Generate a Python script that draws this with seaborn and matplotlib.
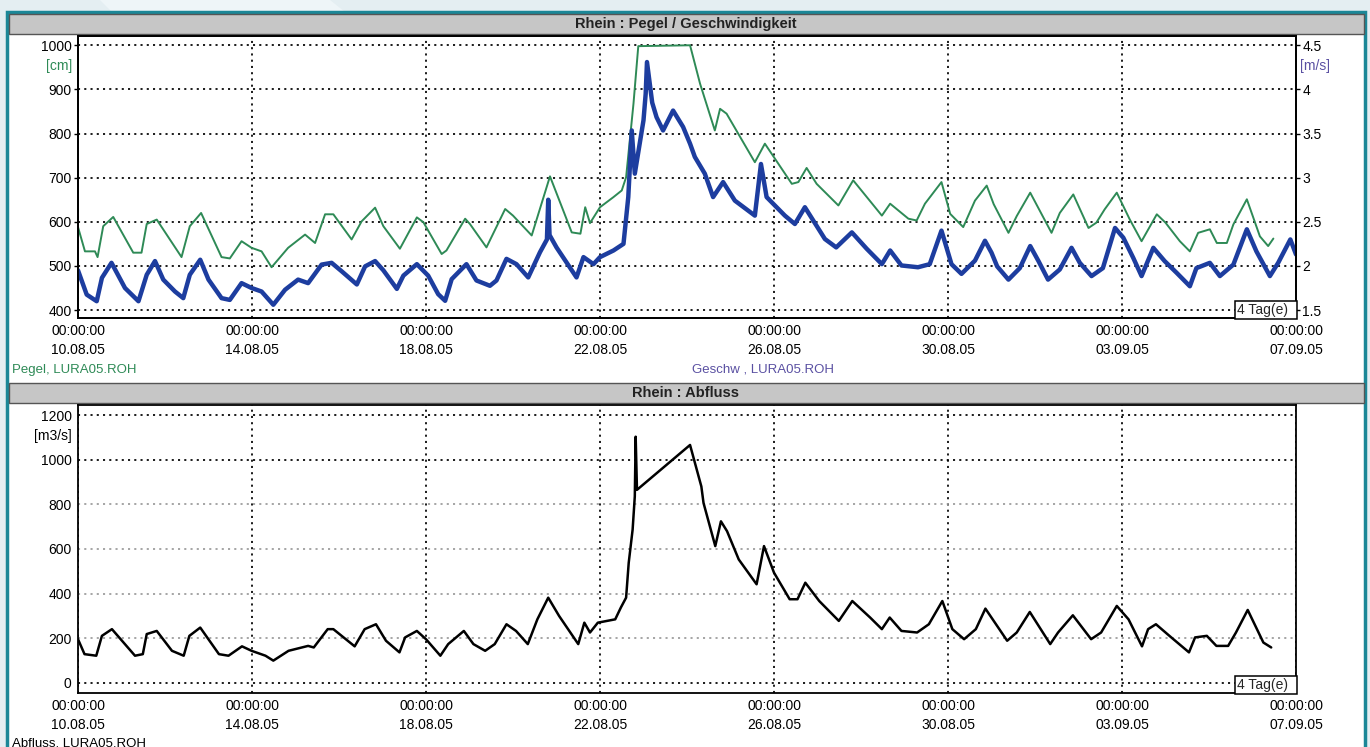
import numpy as np
import pandas as pd
import matplotlib
matplotlib.use('Agg')
from matplotlib import pyplot as plt
import matplotlib.dates as mdates
from matplotlib.patches import Rectangle, Polygon
import seaborn as sns

# measurement start (00:00:00 10.08.05), offsets in days
start = pd.Timestamp('2005-08-10')

pegel_days = [0.0, 0.16, 0.39, 0.45, 0.58, 0.81, 1.27, 1.46, 1.58, 1.81, 2.38, 2.57, 2.83,
              3.30, 3.49, 3.76, 3.99, 4.22, 4.45, 4.83, 5.22, 5.45, 5.68, 5.87, 6.29, 6.52,
              6.83, 7.02, 7.40, 7.79, 7.94, 8.36, 8.47, 8.90, 9.01, 9.39, 9.82, 10.0, 10.43,
              10.85, 11.35, 11.55, 11.66, 11.77, 12.0, 12.31, 12.5, 12.6, 12.77, 12.88, 14.07,
              14.30, 14.64, 14.76, 14.91, 15.56, 15.79, 16.41, 16.56, 16.75, 16.98, 17.48,
              17.82, 18.48, 18.67, 19.09, 19.28, 19.47, 19.85, 20.05, 20.35, 20.62, 20.89,
              21.05, 21.39, 21.58, 21.89, 22.38, 22.57, 22.88, 23.23, 23.41, 23.6, 23.88,
              24.18, 24.45, 24.8, 25.0, 25.33, 25.56, 25.75, 26.02, 26.18, 26.41, 26.56,
              26.87, 27.17, 27.36, 27.48]
pegel_cm = [588, 533, 533, 520, 590, 611, 530, 530, 595, 605, 520, 590, 620,
            520, 517, 556, 541, 533, 497, 541, 571, 552, 617, 617, 560, 601,
            632, 590, 539, 610, 599, 527, 535, 607, 595, 542, 629, 614, 569,
            703, 576, 573, 633, 597, 633, 656, 671, 701, 868, 998, 1000,
            913, 807, 856, 845, 735, 777, 686, 690, 722, 686, 637,
            694, 614, 641, 607, 603, 641, 690, 618, 588, 648, 682,
            640, 575, 613, 666, 575, 620, 662, 586, 598, 628, 666,
            605, 556, 617, 598, 556, 533, 575, 583, 552, 552, 594,
            651, 567, 545, 562]

geschw_days = [0.0, 0.2, 0.43, 0.55, 0.77, 1.08, 1.39, 1.58, 1.77, 1.96, 2.23, 2.42, 2.57,
               2.81, 3.0, 3.3, 3.49, 3.76, 3.99, 4.22, 4.49, 4.76, 5.06, 5.29, 5.6, 5.83,
               6.06, 6.41, 6.6, 6.83, 7.02, 7.33, 7.48, 7.79, 8.05, 8.28, 8.44, 8.59, 8.93,
               9.16, 9.47, 9.62, 9.85, 10.08, 10.35, 10.62, 10.78, 10.81, 10.84, 11.0, 11.46,
               11.62, 11.85, 12.0, 12.31, 12.54, 12.65, 12.73, 12.8, 13.0, 13.05, 13.08,
               13.2, 13.3, 13.45, 13.68, 13.91, 14.07, 14.18, 14.41, 14.6, 14.83, 15.1,
               15.56, 15.7, 15.83, 16.25, 16.48, 16.71, 17.17, 17.43, 17.79, 18.13, 18.48,
               18.67, 18.93, 19.31, 19.58, 19.85, 20.08, 20.31, 20.62, 20.85, 21.0, 21.13,
               21.39, 21.65, 21.89, 22.08, 22.3, 22.57, 22.84, 23.03, 23.3, 23.56, 23.84,
               24.03, 24.26, 24.45, 24.72, 24.98, 25.26, 25.56, 25.71, 26.02, 26.25, 26.56,
               26.87, 27.09, 27.4, 27.59, 27.87, 28.0]
geschw_ms = [1.95, 1.675, 1.60, 1.865, 2.035, 1.75, 1.60, 1.90, 2.055, 1.845, 1.71, 1.635, 1.90,
             2.07, 1.845, 1.635, 1.615, 1.805, 1.75, 1.71, 1.56, 1.73, 1.845, 1.805, 2.015, 2.035,
             1.94, 1.79, 1.995, 2.055, 1.95, 1.74, 1.89, 2.02, 1.89, 1.68, 1.605, 1.85, 2.02,
             1.835, 1.775, 1.835, 2.08, 2.02, 1.87, 2.155, 2.30, 2.75, 2.35, 2.21, 1.87,
             2.10, 2.02, 2.10, 2.175, 2.25, 2.78, 3.535, 3.045, 3.65, 3.95, 4.31,
             3.85, 3.685, 3.535, 3.76, 3.575, 3.385, 3.235, 3.045, 2.78, 2.95, 2.74,
             2.57, 3.155, 2.78, 2.57, 2.475, 2.665, 2.305, 2.21, 2.38, 2.195, 2.02,
             2.175, 2.005, 1.985, 2.02, 2.40, 2.02, 1.91, 2.06, 2.285, 2.15, 1.995,
             1.845, 1.975, 2.225, 2.055, 1.845, 1.96, 2.205, 2.035, 1.885, 1.975, 2.43,
             2.32, 2.09, 1.885, 2.205, 2.055, 1.92, 1.77, 1.975, 2.035, 1.885, 2.015,
             2.415, 2.165, 1.885, 2.035, 2.30, 2.13]

abfluss_days = [0.0, 0.15, 0.42, 0.55, 0.78, 1.31, 1.49, 1.58, 1.81, 2.16, 2.43, 2.56, 2.81,
                3.24, 3.46, 3.77, 3.99, 4.31, 4.49, 4.84, 5.29, 5.42, 5.74, 5.87, 6.36, 6.59,
                6.85, 7.08, 7.39, 7.52, 7.79, 8.0, 8.33, 8.51, 8.87, 9.09, 9.36, 9.58, 9.85,
                10.07, 10.34, 10.56, 10.81, 11.06, 11.5, 11.64, 11.77, 11.95, 12.35, 12.48,
                12.6, 12.66, 12.75, 12.8, 12.82, 12.85, 14.07, 14.33, 14.38, 14.65, 14.78,
                14.92, 15.19, 15.6, 15.77, 16.0, 16.36, 16.54, 16.72, 17.04, 17.49, 17.8,
                18.21, 18.48, 18.66, 18.93, 19.29, 19.56, 19.87, 20.1, 20.37, 20.64, 20.86,
                21.36, 21.58, 21.88, 22.35, 22.53, 22.87, 23.29, 23.52, 23.88, 24.15, 24.46,
                24.6, 24.78, 25.09, 25.54, 25.68, 25.95, 26.17, 26.44, 26.62, 26.89, 27.25,
                27.43]
abfluss_m3s = [196, 129, 122, 211, 241, 122, 129, 219, 233, 144, 122, 211, 248,
               129, 122, 164, 144, 122, 100, 144, 166, 159, 241, 241, 164, 241,
               263, 189, 137, 204, 233, 196, 122, 174, 233, 174, 144, 174, 263,
               233, 174, 285, 382, 300, 174, 270, 226, 270, 285, 338,
               382, 538, 687, 836, 1103, 865, 1066, 880, 806, 613, 724,
               680, 553, 442, 613, 494, 375, 375, 449, 367, 278, 367,
               293, 241, 293, 233, 226, 263, 367, 241, 196, 241, 333,
               189, 226, 318, 174, 226, 303, 196, 226, 345, 285, 164,
               241, 263, 211, 137, 204, 211, 166, 166, 226, 327, 181,
               159]

tick_days = [0, 4, 8, 12, 16, 20, 24, 28]


def to_time(days):
    return start + pd.to_timedelta(np.array(days), unit='D')


W, H = 1370, 747


def fx(x):
    return x / W


def fy(y):
    return 1 - y / H


sns.set_style('white')
plt.rcParams['font.family'] = ['Liberation Sans', 'DejaVu Sans']

green = '#2e8a56'
blue = '#1d3d9f'
purple = '#5a50a2'

fig = plt.figure(figsize=(13.7, 7.47), dpi=100, facecolor='#e4eef2')

# page background and frame (kept behind the axes)
fig.patches.append(Polygon([(fx(100), 1), (fx(330), 1), (fx(345), fy(12)), (fx(112), fy(12))],
                           closed=True, transform=fig.transFigure, fc='#eef5f8', ec='none',
                           zorder=-10))
fig.patches.append(Rectangle((fx(7), -0.01), fx(1365) - fx(7), fy(12) + 0.01,
                             transform=fig.transFigure, fc='white', ec='#1b8797', lw=2.5,
                             zorder=-9))
for y0, y1, title in [(14, 34, 'Rhein : Pegel / Geschwindigkeit'), (383, 403, 'Rhein : Abfluss')]:
    fig.patches.append(Rectangle((fx(9), fy(y1)), fx(1364) - fx(9), (y1 - y0) / H,
                                 transform=fig.transFigure, fc='#c6c6c6', ec='#555555', lw=1,
                                 zorder=-8))
    fig.text(fx(686), fy((y0 + y1) / 2), title, ha='center', va='center',
             fontsize=10.5, fontweight='bold', color='#222222')

grid_ls = (0, (1.2, 2.4))
date_fmt = mdates.DateFormatter('%H:%M:%S\n%d.%m.%y')


def style_axes(ax):
    ax.set_xlim(start, start + pd.Timedelta(days=28))
    ax.set_xticks(to_time(tick_days))
    ax.xaxis.set_major_formatter(date_fmt)
    ax.tick_params(axis='both', direction='out', length=3, width=1, labelsize=10,
                   pad=1.5, colors='black')
    ax.tick_params(axis='x', length=3, pad=1.5)
    for lbl in ax.get_xticklabels():
        lbl.set_linespacing(1.45)
    for s in ax.spines.values():
        s.set_color('black')
        s.set_linewidth(1.3)
    ax.set_xlabel('')
    ax.set_ylabel('')


def tag_box(ax):
    ax.text(0.9995, 0.003, '4 Tag(e)  ', transform=ax.transAxes, ha='right', va='bottom',
            fontsize=10, zorder=10,
            bbox=dict(boxstyle='square,pad=0.14', fc='white', ec='black', lw=1.1))


# --- top panel: Pegel / Geschwindigkeit
ax1 = fig.add_axes([fx(78), fy(318), fx(1296) - fx(78), (318 - 36) / H])
sns.lineplot(x=to_time(pegel_days), y=pegel_cm, ax=ax1, color=green, lw=1.4)
ax1.set_ylim(382, 1021)
ax1.set_yticks(range(400, 1001, 100))
style_axes(ax1)
ax1.grid(True, color='black', ls=grid_ls, lw=1.25)

ax2 = ax1.twinx()
sns.lineplot(x=to_time(geschw_days), y=geschw_ms, ax=ax2, color=blue, lw=3.2)
ax2.set_ylim(1.5 + (382 - 400) / 200, 1.5 + (1021 - 400) / 200)
ax2.set_yticks([1.5, 2, 2.5, 3, 3.5, 4, 4.5])
ax2.set_yticklabels(['1.5', '2', '2.5', '3', '3.5', '4', '4.5'])
style_axes(ax2)
ax2.grid(False)
tag_box(ax2)

fig.text(fx(72), fy(66), '[cm]', ha='right', va='center', fontsize=10, color=green)
fig.text(fx(1300), fy(66), '[m/s]', ha='left', va='center', fontsize=10, color=purple)
fig.text(fx(12), fy(370), 'Pegel, LURA05.ROH', ha='left', va='center', fontsize=9.5, color=green)
fig.text(fx(692), fy(370), 'Geschw , LURA05.ROH', ha='left', va='center', fontsize=9.5, color=purple)

# --- bottom panel: Abfluss
ax3 = fig.add_axes([fx(78), fy(693), fx(1296) - fx(78), (693 - 405) / H])
sns.lineplot(x=to_time(abfluss_days), y=abfluss_m3s, ax=ax3, color='black', lw=1.8)
ax3.set_ylim(-45, 1245)
ax3.set_yticks(range(0, 1201, 200))
style_axes(ax3)
ax3.grid(True, color='black', ls=grid_ls, lw=1.25)
for val, gl in zip(range(0, 1201, 200), ax3.get_ygridlines()):
    if 0 < val < 1000:
        gl.set_color('#9a9a9a')
tag_box(ax3)

fig.text(fx(72), fy(436), '[m3/s]', ha='right', va='center', fontsize=10, color='black')
fig.text(fx(12), fy(737), 'Abfluss, LURA05.ROH', ha='left', va='top', fontsize=9.5, color='black')

plt.savefig('out.png', dpi=100, facecolor=fig.get_facecolor())
